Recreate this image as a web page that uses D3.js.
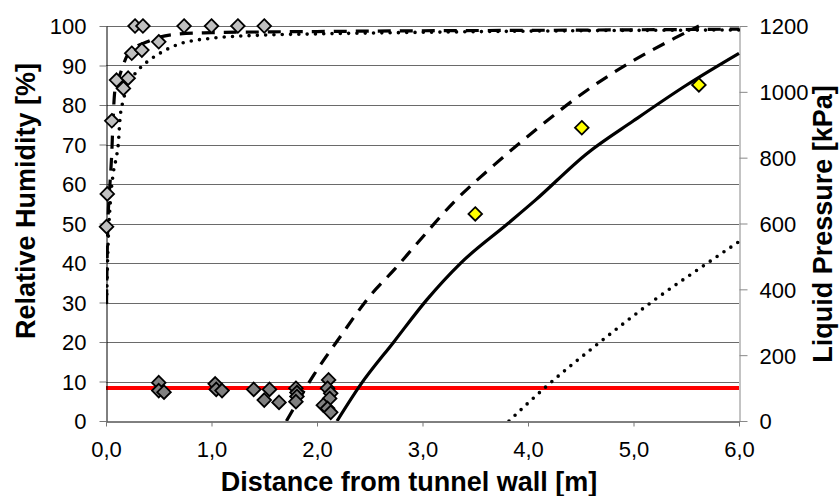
<!DOCTYPE html>
<html><head><meta charset="utf-8">
<script src="https://cdn.jsdelivr.net/npm/d3@7"></script>
<style>body{margin:0;background:#fff}svg{display:block}text{font-family:"Liberation Sans",Arial,sans-serif}</style>
</head><body>
<svg id="c" width="840" height="496"></svg>
<script>
// ---- data ----
const xTicks = [0,1,2,3,4,5,6];
const rhTicks = [0,10,20,30,40,50,60,70,80,90,100];
const pTicks = [0,200,400,600,800,1000,1200];

// measured RH near wall (light gray diamonds) [x m, RH %]
const rhMeasHigh = [[0.005,49.2],[0.012,57.5],[0.055,76],[0.10,86.3],[0.165,84.2],[0.21,86.8],[0.244,93.1],[0.34,93.9],[0.50,96],[0.275,100],[0.35,100],[0.74,100],[1.0,100],[1.25,100],[1.5,100]];
// measured RH low (dark gray diamonds)
const rhMeasLow = [[0.50,9.7],[0.50,7.7],[0.55,7.3],[1.035,9.4],[1.045,8.0],[1.10,7.7],[1.40,8.0],[1.50,5.3],[1.55,8.0],[1.64,4.7],[1.80,8.3],[1.81,7.2],[1.81,6.2],[1.80,4.9],[2.11,10.4],[2.10,8.3],[2.13,7.0],[2.12,5.7],[2.06,4.0],[2.10,3.2],[2.13,2.2]];
// measured liquid pressure (yellow diamonds) [x m, kPa]
const pMeas = [[3.50,629],[4.51,891],[5.62,1021]];

// model RH curves (left axis)
const rhDashed = [[0.005,30],[0.01,40],[0.018,50],[0.03,57],[0.045,63],[0.055,68],[0.065,75],[0.085,83.8],[0.13,87.5],[0.2,92.5],[0.29,94.8],[0.39,96],[0.51,97.2],[0.7,98.0],[1.0,98.3],[1.5,98.5],[2,98.6],[3,98.8],[4,98.9],[6,99.2]];
const rhDotted = [[0.005,30],[0.02,45],[0.04,55],[0.07,63],[0.1,67],[0.117,70.3],[0.133,76.6],[0.165,81.3],[0.22,85.5],[0.307,88.9],[0.37,90.5],[0.434,91.8],[0.51,93.1],[0.67,95.2],[1.0,96.9],[1.5,97.7],[2,98.0],[3,98.4],[4,98.7],[6,99.0]];

// model liquid pressure curves (right axis)
const pSolid = [[2.19,0],[2.41,109],[2.73,241],[3.04,368],[3.36,479],[3.81,600],[4.07,671],[4.56,813],[5.0,912],[5.5,1020],[6.0,1117]];
const pDashed = [[1.71,0],[1.97,140],[2.22,256],[2.51,383],[2.73,459],[2.95,540],[3.30,666],[3.68,778],[4.09,889],[4.56,1005],[5.01,1097],[5.39,1163],[5.62,1200]];
const pDotted = [[3.82,0],[4.17,104],[4.68,239],[5.20,368],[5.72,484],[6.0,545]];
const atmPressure = 100;

// ---- layout ----
const svg = d3.select("#c");
const L = 106, R = 739, T = 26, B = 421;
const x = d3.scaleLinear().domain([0,6]).range([L,R]);
const yL = d3.scaleLinear().domain([0,100]).range([B,T]);
const yR = d3.scaleLinear().domain([0,1200]).range([B,T]);
const fmtX = d3.format(".1f");

// gridlines
svg.append("g").selectAll("line").data(rhTicks.filter(d=>d>0)).join("line")
  .attr("x1",L).attr("x2",R).attr("y1",d=>Math.round(yL(d))+0.5).attr("y2",d=>Math.round(yL(d))+0.5)
  .attr("stroke","#6a6a6a").attr("stroke-width",1);

// red atmospheric line
svg.append("line").attr("x1",L).attr("x2",R)
  .attr("y1",yR(atmPressure)).attr("y2",yR(atmPressure))
  .attr("stroke","#ff0000").attr("stroke-width",4);

// axes
const fs = 22;
const gL = svg.append("g").attr("transform",`translate(${L+0.5},0)`)
  .call(d3.axisLeft(yL).tickValues(rhTicks).tickFormat(d3.format("d")).tickSize(7).tickPadding(13).tickSizeOuter(0));
const gR = svg.append("g").attr("transform",`translate(${R+0.5},0)`)
  .call(d3.axisRight(yR).tickValues(pTicks).tickFormat(d3.format("d")).tickSize(8).tickPadding(12).tickSizeOuter(0));
const gB = svg.append("g").attr("transform",`translate(0,${B+0.5})`)
  .call(d3.axisBottom(x).tickValues(xTicks).tickFormat(d=>fmtX(d).replace(".",",")).tickSize(5).tickPadding(15).tickSizeOuter(0));
[gL,gR,gB].forEach(g=>{g.selectAll("text").attr("font-size",fs).attr("fill","#000").style("font-family",'"Liberation Sans",Arial,sans-serif');});
gL.select(".domain").attr("stroke","#000");
gL.selectAll(".tick line").attr("stroke","#777");
gB.select(".domain").attr("stroke","#000");
gB.selectAll(".tick line").attr("stroke","#777");
gR.select(".domain").attr("stroke","#888");
gR.selectAll(".tick line").attr("stroke","#888");
gL.selectAll("text").attr("dy","0.36em");
gR.selectAll("text").attr("dy","0.36em");

// lines
svg.append("defs").append("clipPath").attr("id","pl").append("rect")
  .attr("x",L).attr("y",T-2).attr("width",R-L+1).attr("height",B-T+2);
const lineL = d3.line().x(d=>x(d[0])).y(d=>yL(d[1])).curve(d3.curveMonotoneX);
const lineR = d3.line().x(d=>x(d[0])).y(d=>yR(d[1])).curve(d3.curveMonotoneX);
const gLines = svg.append("g").attr("clip-path","url(#pl)").attr("fill","none").attr("stroke","#000");
gLines.append("path").attr("d",lineR(pSolid)).attr("stroke-width",3.2);
gLines.append("path").attr("d",lineR(pDashed)).attr("stroke-width",3.2).attr("stroke-dasharray","13,9");
gLines.append("path").attr("d",lineR(pDotted)).attr("stroke-width",3.6).attr("stroke-linecap","round").attr("stroke-dasharray","0,8.3");
gLines.append("path").attr("d",lineL(rhDashed)).attr("stroke-width",3.2).attr("stroke-dasharray","13,9");
gLines.append("path").attr("d",lineL(rhDotted)).attr("stroke-width",3.6).attr("stroke-linecap","round").attr("stroke-dasharray","0,8.3");

// markers
const diamond = (cx,cy,r)=>`M${cx},${cy-r}L${cx+r},${cy}L${cx},${cy+r}L${cx-r},${cy}Z`;
const r = 6.8;
svg.append("g").selectAll("path").data(rhMeasLow).join("path")
  .attr("d",d=>diamond(x(d[0]),yL(d[1]),r)).attr("fill","#808080").attr("stroke","#000").attr("stroke-width",1.8);
svg.append("g").selectAll("path").data(rhMeasHigh).join("path")
  .attr("d",d=>diamond(x(d[0]),yL(d[1]),r)).attr("fill","#c0c0c0").attr("stroke","#000").attr("stroke-width",1.8);
svg.append("g").selectAll("path").data(pMeas).join("path")
  .attr("d",d=>diamond(x(d[0]),yR(d[1]),r)).attr("fill","#ffff00").attr("stroke","#000").attr("stroke-width",1.8);

// titles
svg.append("text").attr("x",409).attr("y",491).attr("text-anchor","middle")
  .attr("font-size",27).attr("font-weight","bold").text("Distance from tunnel wall [m]");
svg.append("text").attr("transform","translate(35,201) rotate(-90)").attr("text-anchor","middle")
  .attr("font-size",27).attr("font-weight","bold").text("Relative Humidity [%]");
svg.append("text").attr("transform","translate(832,224) rotate(-90)").attr("text-anchor","middle")
  .attr("font-size",27).attr("font-weight","bold").text("Liquid Pressure [kPa]");
</script>
</body></html>
